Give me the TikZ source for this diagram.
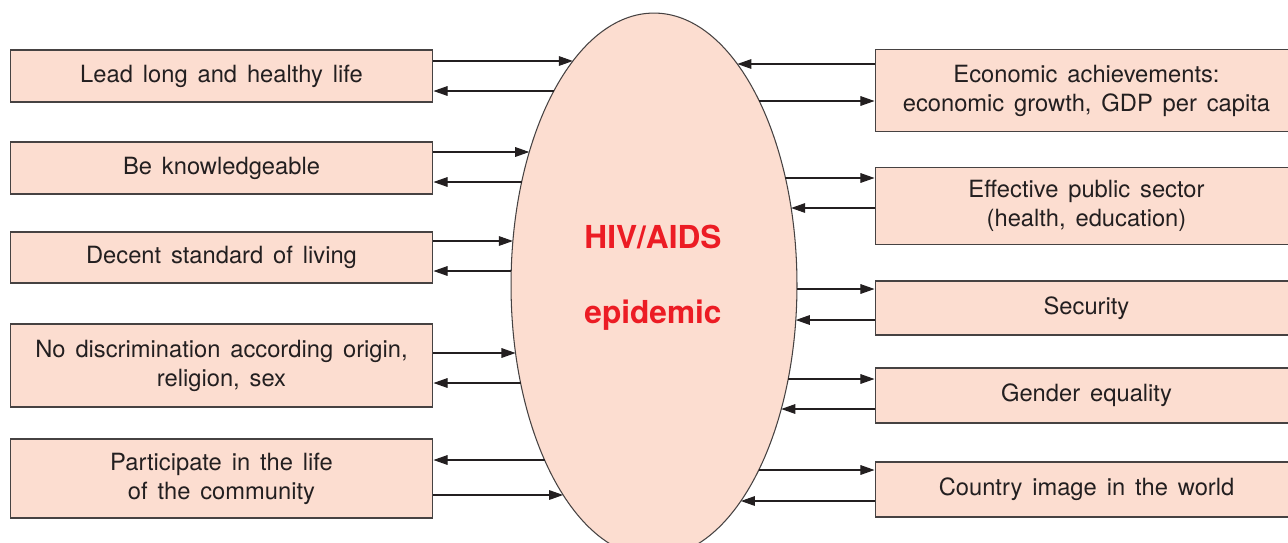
\documentclass[tikz,border=0pt]{standalone}
\usepackage{fontspec}
\setmainfont{TeX Gyre Heros}[WordSpace=1.5]
\usepackage{tikz}
\usetikzlibrary{shapes.geometric,arrows.meta}
\definecolor{boxfill}{RGB}{252,221,208}
\definecolor{boxline}{RGB}{70,66,66}
\definecolor{hivred}{RGB}{236,28,36}
\definecolor{ink}{RGB}{35,31,32}

\begin{document}
\begin{tikzpicture}[x=0.02cm ,y=-0.02cm ,
		arr/.style ={ -{Triangle[length=8pt ,width=5.5pt]} , line width =0.6pt , ink},
		factor/.style ={ rectangle , fill =boxfill , draw =boxline , line width =0.6pt ,
			text=ink , minimum width =8.46cm , align =center , inner sep =2pt ,
			font =\fontsize{13.5}{16.5}\selectfont},
		title/.style ={ text=hivred , font =\fontsize{18}{21}\selectfont\bfseries}]
		\useasboundingbox (0,0) rectangle (1288,542);
		\node[ellipse ,fill =boxfill ,draw =boxline ,line width =0.6pt ,inner sep =0pt ,
			minimum width =5.72cm ,minimum height =10.88cm] (E) at (654,285) {};
		\node[title] (T1) at (653,237) {HIV/AIDS};
		\node[title] (T2) at (653,315) {epidemic};
		% human development side
		\node[factor ,minimum height =1.04cm] (L1) at (221.5,76) {Lead long and healthy life};
		\node[factor ,minimum height =1.04cm] (L2) at (221.5,168) {Be knowledgeable};
		\node[factor ,minimum height =1.02cm] (L3) at (221.5,257.5) {Decent standard of living};
		\node[factor ,minimum height =1.66cm] (L4) at (221.5,365.5) {No discrimination according origin,\\religion, sex};
		\node[factor ,minimum height =1.58cm] (L5) at (221.5,478.5) {Participate in the life\\of the community};
		% national development side
		\node[factor ,minimum height =1.64cm] (R1) at (1086.5,90.5) {Economic achievements:\\economic growth, GDP per capita};
		\node[factor ,minimum height =1.54cm] (R2) at (1086.5,206) {Effective public sector\\(health, education)};
		\node[factor ,minimum height =1.08cm] (R3) at (1086.5,308) {Security};
		\node[factor ,minimum height =1.10cm] (R4) at (1086.5,395.5) {Gender equality};
		\node[factor ,minimum height =1.10cm] (R5) at (1086.5,489.5) {Country image in the world};
		% arrows to the left boxes (0 = into ellipse, 1 = out of ellipse)
		\foreach \b/\y/\d in {L1/61/0, L1/91/1, L2/152/0, L2/182/1, L3/241/0, L3/271/1,
			L4/353/0, L4/383/1, L5/460/1, L5/495/0} {
			\pgfmathsetmacro\ex{654-143*sqrt(1-((\y-285)/272)^2)}
			\coordinate (e\b\y) at (\ex,\y);
			\ifnum\d=0 \draw[arr] (\b.east |- e\b\y) -- (e\b\y); \else \draw[arr] (e\b\y) -- (\b.east |- e\b\y); \fi
		}
		% arrows to the right boxes
		\foreach \b/\y/\d in {R1/64/0, R1/101/1, R2/178/1, R2/208/0, R3/289/1, R3/320/0,
			R4/379/1, R4/409/0, R5/470/1, R5/501/0} {
			\pgfmathsetmacro\ex{654+143*sqrt(1-((\y-285)/272)^2)}
			\coordinate (e\b\y) at (\ex,\y);
			\ifnum\d=0 \draw[arr] (\b.west |- e\b\y) -- (e\b\y); \else \draw[arr] (e\b\y) -- (\b.west |- e\b\y); \fi
		}
\end{tikzpicture}
\end{document}
